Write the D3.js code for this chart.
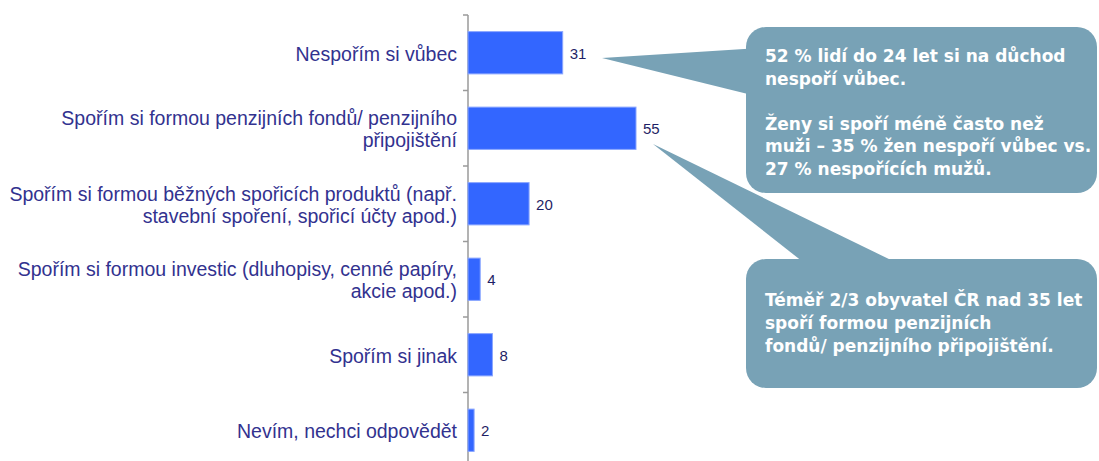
<!DOCTYPE html>
<html>
<head>
<meta charset="utf-8">
<script src="https://cdn.jsdelivr.net/npm/d3@7"></script>
<style>
  body { margin: 0; background: #fff; }
  svg { display: block; font-family: "Liberation Sans", Arial, sans-serif; }
</style>
</head>
<body>
<svg width="1099" height="461"></svg>
<script>
// kategorie (řádky popisků) a hodnoty v %
const categories = [
  ["Nespořím si vůbec"],
  ["Spořím si formou penzijních fondů/ penzijního", "připojištění"],
  ["Spořím si formou běžných spořicích produktů (např.", "stavební spoření, spořicí účty apod.)"],
  ["Spořím si formou investic (dluhopisy, cenné papíry,", "akcie apod.)"],
  ["Spořím si jinak"],
  ["Nevím, nechci odpovědět"]
];
const values = [31, 55, 20, 4, 8, 2];

const note1 = [
  "52 % lidí do 24 let si na důchod",
  "nespoří vůbec.",
  "",
  "Ženy si spoří méně často než",
  "muži – 35 % žen nespoří vůbec vs.",
  "27 % nespořících mužů."
];
const note2 = [
  "Téměř 2/3 obyvatel ČR nad 35 let",
  "spoří formou penzijních",
  "fondů/ penzijního připojištění."
];

const svg = d3.select("svg");
const x0 = 468;

// škály
const x = d3.scaleLinear().domain([0, 55]).range([0, 168]);
const y = d3.scaleBand()
  .domain(d3.range(categories.length))
  .range([15, 468])
  .paddingInner(0.44)
  .paddingOuter(0.22);
const step = y.step();

// osa
svg.append("line")
  .attr("x1", x0).attr("x2", x0)
  .attr("y1", 15).attr("y2", 461)
  .attr("stroke", "#9a9a9a").attr("stroke-width", 1.5);

svg.selectAll(".tick")
  .data(d3.range(categories.length))
  .enter().append("line")
  .attr("x1", x0 - 5).attr("x2", x0)
  .attr("y1", i => 15 + i * step)
  .attr("y2", i => 15 + i * step)
  .attr("stroke", "#9a9a9a").attr("stroke-width", 1.5);

// sloupce
svg.selectAll(".bar")
  .data(values)
  .enter().append("rect")
  .attr("x", x0)
  .attr("y", (d, i) => y(i))
  .attr("width", d => x(d))
  .attr("height", y.bandwidth())
  .attr("fill", "#3366ff")
  .attr("stroke", "#8aa6ff")
  .attr("stroke-width", 1);

// hodnoty
svg.selectAll(".val")
  .data(values)
  .enter().append("text")
  .attr("x", d => x0 + x(d) + 7)
  .attr("y", (d, i) => y(i) + y.bandwidth() / 2 + 6)
  .attr("font-size", 15)
  .attr("fill", "#1f1f66")
  .text(d => d);

// popisky kategorií
const lab = svg.selectAll(".lab")
  .data(categories)
  .enter().append("text")
  .attr("text-anchor", "end")
  .attr("font-size", 19.5)
  .attr("fill", "#32328f");

lab.each(function(lines, i) {
  const cy = y(i) + y.bandwidth() / 2;
  d3.select(this).selectAll("tspan")
    .data(lines)
    .enter().append("tspan")
    .attr("x", 457)
    .attr("y", (l, j) => cy + 8 + (j - (lines.length - 1) / 2) * 22)
    .text(l => l);
});

// bubliny
const boxFill = "#78a2b6";

function callout(bx, by, bw, bh, pointer, lines, ty, lh) {
  svg.append("path")
    .attr("d", d3.line()(pointer) + "Z")
    .attr("fill", boxFill);
  svg.append("rect")
    .attr("x", bx).attr("y", by)
    .attr("width", bw).attr("height", bh)
    .attr("rx", 20).attr("ry", 20)
    .attr("fill", boxFill);
  svg.append("text")
    .attr("font-family", "'DejaVu Sans', Verdana, sans-serif")
    .attr("font-size", 17)
    .attr("font-weight", "bold")
    .attr("fill", "#fff")
    .selectAll("tspan")
    .data(lines)
    .enter().append("tspan")
    .attr("x", bx + 19)
    .attr("y", (l, j) => ty + j * lh)
    .text(l => l);
}

callout(746, 27, 351, 166,
  [[602, 58], [760, 48], [760, 97]],
  note1, 62, 22.5);

callout(746, 259, 351, 129,
  [[653, 144], [803, 262], [895, 262]],
  note2, 306, 23);
</script>
</body>
</html>
